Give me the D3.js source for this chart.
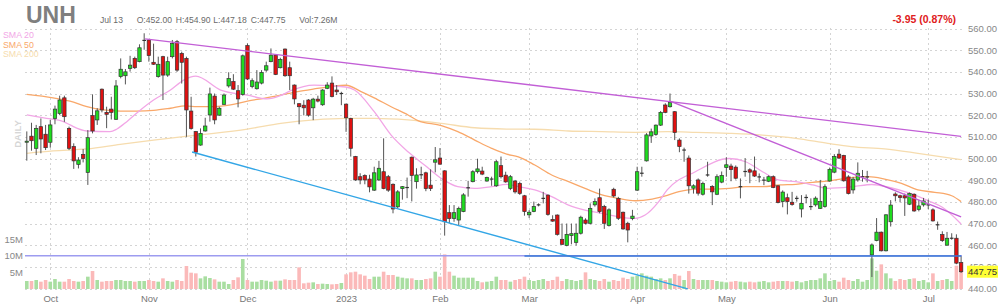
<!DOCTYPE html>
<html><head><meta charset="utf-8">
<script src="https://cdn.jsdelivr.net/npm/d3@7"></script>
<style>body{margin:0;background:#fff;} svg{display:block;font-family:"Liberation Sans",Arial,sans-serif;}</style>
</head><body><svg id="c" width="1000" height="308"></svg>
<script>
// ---- DATA ----
const opens=[507.5,510.3,504.7,514.7,511.2,507.5,518.5,520.8,528,513.9,505.5,497.3,501.9,493.6,519.8,517.8,532,521.3,522.8,518.1,537.8,538.2,541.6,546.2,544.7,554.5,554.7,544.4,537.8,547,538.5,547,553.9,548.5,546.2,521.9,512.4,506.2,512.7,520.1,528.8,520,525,533.5,535.5,531.3,529.6,552.1,533.3,532.2,534.8,540.8,544.7,547.7,541.9,550.5,541.9,533.9,525.3,524.6,527,523.4,527.4,524.8,532.4,534.8,531.6,530,525.1,518.5,500.9,491.6,492.1,490.5,485.4,490.1,493.9,491.6,488.1,477.7,486.1,486.6,500.6,489.3,492.5,493.4,487.7,498.3,500.2,494.3,475,472.3,471.6,475.5,486.5,489.3,493.9,494.2,489.6,490.5,487.4,496.7,492.3,486.2,489.6,488.5,482.8,474,475.5,478.6,481.6,483.1,471.9,473.9,462.7,459.9,464.4,461.3,465.5,471.6,470.1,478.6,481.9,477.8,469.1,485.8,481.6,475.2,470.1,472.3,485.4,493.2,498.9,510.4,511.1,515.4,524.7,523.9,521.6,508.5,503.9,500.2,486.3,490.1,483.5,492.4,487.1,483.5,489.1,495.8,496.5,496,487,494,494.8,494.3,491.5,490,489.5,491.6,487.4,480.1,481.9,479.8,481.6,476.7,482,477.8,478.6,477,477.8,489.6,493.7,502,501.4,491.5,485.5,490.1,491.6,491.5,455.5,462.1,466,457.4,470.8,483.6,482.8,482.8,478.9,483.5,476.5,478.6,478.6,476.3,469.4,464.9,460,463.2,463.2,452];
const highs=[512.5,516.5,515.5,518.5,515.5,517.8,524.4,529,529,514.7,507,500.6,504.4,513.1,529.6,523.2,532.3,523.9,528.5,536.2,546.2,541.3,547.4,547,552.7,557.8,555,553,547,547.4,547,554.7,554.7,549.3,547,528.5,512.7,513.9,518.8,532.7,530,523.9,530,539.8,538.9,533.9,548,553.1,537,540.8,540.8,544.7,550.8,548,546.5,550.8,544.7,534.2,525.5,526.9,527.4,528,529,532,535.2,537.9,533.9,530.8,525.3,518.8,501.2,493.2,492.7,492.5,496.2,498.9,509.3,492.4,488.5,485.4,487.3,491.2,500.9,495.5,496.2,493.9,495,505.3,504.8,494.6,478.5,478.5,477.8,484,489.7,494.6,499.9,496.2,491.6,491.6,499.3,500.9,493.9,492.4,490.1,489.3,483.2,476.2,480.1,479.3,484.6,483.4,473.8,474.2,470,470,470,470,473.6,472.4,479.3,481.6,486.1,478.6,477,486.5,482.3,475.5,470.8,476.3,496.2,496.2,511.7,513.8,515.7,521.9,525.5,530,521.9,509.3,505,501.4,488.1,490.8,489.3,498.5,487.7,492.7,494,500.6,497.6,496.8,490.8,500.2,495.5,500.9,493.1,491.5,492.2,492.2,487.7,485.3,483.8,484.6,482.8,483.1,483.4,481.6,482.5,490.1,488.1,495.8,502,504.3,501.7,492.3,491.5,498.2,494.7,494.3,460.8,472.5,466.3,474.3,480.8,484.4,483.3,483.8,484.3,483.9,480.9,481.8,481,477,470.9,466.4,466.1,465.5,465,454.9];
const lows=[499,503.6,501.6,502.4,503.9,505,515.8,520,516.9,503.9,495.2,495.4,498.2,487.8,511.6,515.5,521.3,514,518,517.8,537,534.2,540.1,541.3,544.4,550.2,544.7,543.2,537.3,527,537.7,546.2,540,534.6,510,513.3,500.9,505.9,512.4,517,515.8,519.7,524.8,532.7,531.6,523.6,529,536.2,532.4,531.8,534.2,540,544.4,538.5,541.6,537.7,531.6,525,515.8,519.9,519.3,517.7,525.9,524.3,532,528.2,529.3,524.6,512.3,500.9,489.7,488.1,488.1,484.4,485,489.6,485.8,484.6,474.7,476.9,481,481.7,480.2,486.1,490.5,484.9,485,493.6,497.1,464.4,470,470.8,469.2,475.2,482.4,489,493.1,492.3,489.3,487.4,486.9,490.8,488.8,485.4,483.8,483.2,473.6,472.5,475.2,477.9,479.3,473.6,470.8,464.4,460.1,459.5,460.4,459.8,464.9,469.6,469.6,477.8,474.7,467.5,468.6,482,471.6,467.1,461.3,471.5,485,491.6,498.6,507.2,510.5,515,520.9,523.5,508.5,502.9,498.5,483.8,483.8,482.9,482.9,491.6,478.5,483.1,488.6,491.6,489.5,490.3,481.6,491.6,488.6,491.5,489,487.7,489.1,486.3,479.3,477.5,474.2,478.2,480.1,472.8,479.3,476.2,477.8,476.7,477.3,489.3,493.2,499.8,489.3,483.4,483.8,489.3,489.3,489,445.3,461.8,457.1,457.1,468.6,480.2,479.8,473.5,478.5,475.4,475.6,477.8,476.6,470.9,467.1,461.5,459.8,462.5,451.2,447.18];
const closes=[508,508.2,513.9,509,505,515.5,522.8,527,519.3,504.7,498.9,499.3,500,509.6,512.7,522,522.4,520.4,521.3,533.5,541.2,540,543.1,541.9,551.1,554.5,547.5,543.5,543.5,538.5,544.7,553.1,540.8,544.4,522.4,513.9,502.9,511.6,515,529.8,517.8,523.2,529.3,536.9,532,527.5,547.4,536.7,535.9,535.3,539.7,542.8,547.7,538.8,545.7,538.2,538.2,527.5,523.9,523.4,520,527.4,526.5,531.6,533.9,528.6,530.8,530,518.8,504.7,490.1,490.1,490.1,486.9,493.4,495.5,486.1,485.4,476.7,484.6,487,486.6,492.2,492.4,492.5,486.1,486.1,499.4,497.4,470.8,472.3,475,477,483.2,486.5,493.9,495.2,492.8,491.2,490.5,498.5,491.6,489.2,491.6,484.6,483.9,475.5,475.2,477.8,478.6,481.6,474.2,471.1,465,460.4,465,465.3,465.5,472.9,470.1,477,480.1,475.5,470.1,476.3,482.7,472.4,467.5,467,473.4,493.9,493.2,510.9,512.3,515.4,521.3,521.3,525.9,512,505.5,503.9,487.4,487.4,484,488.5,492.4,484.6,491.6,492.2,497.1,494.9,490.9,487,494,493.7,491.9,491.5,490,491.6,486.6,479.7,484.5,480.1,478.8,481.6,479.3,482,477.8,481.7,480.1,487,495,500.9,500.2,489.7,483.8,490.5,493.2,491.6,491.5,460.1,466,457.4,474,478.5,482.8,482,481.8,483.8,475.8,478.1,480.4,478.6,471.2,469.4,462.1,463.2,463.2,451.7,447.75];
const volumes=[2.4,2.4,2.7,2.2,2.7,2.2,3.0,2.2,2.2,3.0,2.4,2.2,2.4,3.7,5.4,2.7,2.2,2.4,2.4,2.7,2.7,2.4,2.4,2.2,2.4,2.4,2.7,2.4,2.2,3.2,2.4,2.2,2.7,2.4,
6.9,4.9,4.7,3.2,3.8,3.3,2.9,2.2,2.2,1.5,2.7,3.5,9.0,2.7,2.2,2.2,2.7,2.5,2.2,2.5,2.5,2.9,2.7,2.7,6.5,1.7,1.9,2.0,1.5,1.6,1.5,1.4,1.5,1.8,
4.4,5.0,5.2,4.4,4.0,3.0,3.7,3.7,5.2,4.2,4.2,3.7,3.4,3.2,3.2,2.7,2.7,3.0,3.2,5.2,3.7,10.4,5.2,4.0,3.4,3.4,3.4,3.4,2.4,2.0,2.2,2.4,3.7,2.7,
2.7,2.2,2.7,3.0,3.7,2.7,2.4,2.7,3.0,2.4,2.7,3.7,2.4,3.0,2.7,2.4,2.7,5.0,3.0,2.7,2.4,3.0,2.2,2.7,2.4,3.4,3.0,3.7,4.0,4.7,4.0,3.7,3.0,3.2,
2.7,3.2,4.5,4.0,2.7,5.4,3.0,2.7,2.7,2.7,2.7,2.4,2.2,2.0,2.2,2.4,2.2,2.0,2.2,2.0,2.2,2.4,2.0,2.2,2.4,2.4,2.4,2.2,2.4,2.0,2.4,2.7,2.7,3.2,
4.7,2.4,2.7,2.2,3.4,2.7,2.4,3.0,2.2,2.7,9.2,5.5,7.4,4.7,3.2,2.4,3.0,2.7,3.0,3.2,2.4,2.7,2.0,4.7,2.4,2.7,3.0,2.4,7.0,7.26];
const monthIdx=[5,26,47,68,88,107,130,149,171,192];
const monthLabels=["Oct","Nov","Dec","2023","Feb","Mar","Apr","May","Jun","Jul"];
const priceTicks=[440,450,460,470,480,490,500,510,520,530,540,550,560];
const volTicks=[5,10,15];
const sma20Idx=[0,4.2,7.8,9.2,12.8,17.7,19.2,21.3,24.2,27,30.6,33.4,36,41.3,47,51.2,54,56.2,61.2,67.9,69.8,74,77.6,81.2,84.7,88.3,91.8,95.4,99,102.2,104.7,108.2,111.8,115.4,118.9,122.5,126,129.6,131.7,134.6,136.4,142.4,149.6,153.1,156.7,160.3,163.8,167.4,170.6,176,180,184,188,192,195,199];
const sma20Val=[520.1,518.5,517,515.5,512.7,512.4,513.6,517,522.4,527,531.6,536.2,538,531.6,529.2,527.5,529,531.3,533.9,533,531.6,521.6,510.8,503.1,497,490.8,487,486.2,487,488.1,487,485.5,482.4,478.5,476.2,474.7,473.1,472.4,473.9,480.1,485.5,493.9,500,498.5,493.9,490,489.3,487.8,486.2,487,488,486.5,484,480.5,477.5,469.8];
const sma50Idx=[0,5.6,9.2,12.8,16.3,19.9,23.4,27,30.6,33.8,36.3,39.8,43.4,47,50.5,54.1,57.7,61.2,64.8,68,71.2,74,77.6,81.2,83.3,88.3,91.8,95.4,99,102.2,104.7,108.2,111.8,115.4,118.9,122.5,126,129.6,133.2,136.4,138.9,142.4,146,149.6,153.1,156.7,160.3,163.8,167.4,170.6,175.6,179.2,182.7,186.3,189.8,193.4,197,199];
const sma50Val=[529.6,528,526.5,523.9,522.4,521.9,521.9,522.2,523.2,524.3,523.9,523.9,524.7,526.5,527.8,529.3,530.9,532.1,533.2,533.8,530.9,528,523.9,520.1,517.5,515.2,512.4,508.5,504.7,502,500.8,497,492.4,489.3,486.2,483.2,481.6,480.5,481.3,483,484.7,485.9,485.9,486.2,487,487,487.8,488.1,489,489.6,491.2,491.6,490.5,488.5,485.5,484.4,482.8,480.1];
const sma200Idx=[0,5.6,12.8,19.9,27,33.8,39.8,47,54.1,61.2,68,74,81.2,88.3,95.4,102.2,108.2,115.4,122.5,129.6,136.4,142.4,149.6,156.7,163.8,170.6,175.6,182.7,189.8,199];
const sma200Val=[502.4,503.5,504.4,506.5,508.5,510.2,511.6,513.6,516.2,517.8,518.5,518.5,517.8,516.2,514.2,513.6,513.5,512.7,512.4,512.1,512.4,512.1,511.6,510.8,509.3,507,505.5,504.4,502.4,499.5];
// trendlines: [startIndex, startPrice, endIndex, endPrice]
const purpleLine1=[25.2,555.2,199,510.2];
const purpleLine2=[137,526.5,199,473.1];
const blueLine=[35.2,503,140.8,439.8];
const hLine=[106,455,199,455];
const lastClose=447.75;

// ---- CHART ----
const svg=d3.select("#c");
const x=d3.scaleLinear().domain([0,199]).range([26.8,961.1]);
const y=d3.scaleLinear().domain([440,560]).range([288.5,28.5]);
const yv=d3.scaleLinear().domain([0,10]).range([289,255.7]);
const left=25,right=962;
const FONT="Liberation Sans, Arial, sans-serif";

// grid
const grid=svg.append("g").attr("stroke","#d4d4d4").attr("stroke-dasharray","2,3").attr("stroke-width",1);
priceTicks.forEach(p=>grid.append("line").attr("x1",left).attr("x2",right).attr("y1",Math.round(y(p))+0.5).attr("y2",Math.round(y(p))+0.5));
monthIdx.forEach(i=>grid.append("line").attr("x1",Math.round(x(i))+0.5).attr("x2",Math.round(x(i))+0.5).attr("y1",28).attr("y2",290));

// volume bars
const up=d3.range(200).map(i=>closes[i]>=opens[i]);
svg.append("g").selectAll("rect").data(volumes).join("rect")
  .attr("x",(d,i)=>x(i)-1.8).attr("width",3.6)
  .attr("y",d=>yv(d)).attr("height",d=>yv(0)-yv(d))
  .attr("fill",(d,i)=>up[i]?"#a9dea1":"#fbb9b9");

// 10M volume line
svg.append("line").attr("x1",left).attr("x2",right).attr("y1",yv(10)).attr("y2",yv(10)).attr("stroke","#9d9cf0").attr("stroke-width",1.5);

// SMAs
const mk=(idx,val)=>idx.map((d,k)=>[d,val[k]]);
const line=d3.line().x(d=>x(d[0])).y(d=>y(d[1])).curve(d3.curveMonotoneX);
svg.append("path").attr("d",line(mk(sma200Idx,sma200Val))).attr("fill","none").attr("stroke","#f6dcae").attr("stroke-width",1.3);
svg.append("path").attr("d",line(mk(sma50Idx,sma50Val))).attr("fill","none").attr("stroke","#f9a86a").attr("stroke-width",1.3);
svg.append("path").attr("d",line(mk(sma20Idx,sma20Val))).attr("fill","none").attr("stroke","#f2a6e6").attr("stroke-width",1.3);

// candles
const cg=svg.append("g");
d3.range(200).forEach(i=>{
  const cx=x(i);
  cg.append("line").attr("x1",cx).attr("x2",cx).attr("y1",y(highs[i])).attr("y2",y(lows[i])).attr("stroke","#555").attr("stroke-width",1);
  const o=opens[i],c=closes[i];
  if(Math.abs(o-c)<0.05){
    cg.append("line").attr("x1",cx-1.8).attr("x2",cx+1.8).attr("y1",y(o)).attr("y2",y(o)).attr("stroke","#333").attr("stroke-width",1.2);
  } else {
    const top=y(Math.max(o,c)),bot=y(Math.min(o,c));
    cg.append("rect").attr("x",cx-1.7).attr("width",3.4).attr("y",top).attr("height",Math.max(1,bot-top))
      .attr("fill",c>o?"#1fdc1f":"#e01010").attr("stroke","#333").attr("stroke-width",0.7);
  }
});

// trend lines
const tl=(a,col)=>svg.append("line").attr("x1",x(a[0])).attr("y1",y(a[1])).attr("x2",x(a[2])).attr("y2",y(a[3])).attr("stroke",col).attr("stroke-width",1.4);
tl(purpleLine1,"#c25fd6");
tl(purpleLine2,"#c25fd6");
tl(blueLine,"#33a6e6");
tl(hLine,"#3b78d6");

// axes
const ya=svg.append("g").attr("transform","translate(964,0)")
  .call(d3.axisRight(y).tickValues(priceTicks.filter(p=>p!==450)).tickSize(0).tickPadding(4).tickFormat(d3.format(".2f")));
ya.select(".domain").remove();
ya.selectAll("text").attr("fill","#888").attr("font-size","9.5px").attr("font-family",FONT);
// 450 label sits partly behind the last-price tag in the reference: show only its upper part
svg.append("clipPath").attr("id","clip450").append("rect").attr("x",960).attr("y",255).attr("width",40).attr("height",y(lastClose)-6-255);
svg.append("text").attr("x",968).attr("y",y(450)+3.3).attr("clip-path","url(#clip450)").attr("fill","#888").attr("font-size","9.5px").attr("font-family",FONT).text("450.00");

const xa=svg.append("g").attr("transform","translate(0,289)")
  .call(d3.axisBottom(x).tickValues(monthIdx).tickSize(0).tickPadding(6).tickFormat((d,k)=>monthLabels[k]));
xa.select(".domain").remove();
xa.selectAll("text").attr("fill","#777").attr("font-size","9.5px").attr("font-family",FONT);

const va=svg.append("g").attr("transform","translate(24,0)")
  .call(d3.axisLeft(yv).tickValues(volTicks).tickSize(0).tickPadding(1).tickFormat(d=>d+"M"));
va.select(".domain").remove();
va.selectAll("text").attr("fill","#888").attr("font-size","9.5px").attr("font-family",FONT);

// last price tag
svg.append("rect").attr("x",967).attr("y",y(lastClose)-6).attr("width",31).attr("height",12).attr("fill","#ffff33");
svg.append("text").attr("x",982.5).attr("y",y(lastClose)+3.5).attr("text-anchor","middle").attr("font-size","9.5px").attr("fill","#333").text(lastClose.toFixed(2));

// header
svg.append("text").attr("x",26).attr("y",23).attr("font-size","23px").attr("font-weight","bold").attr("fill","#7f7f7f").text("UNH");
const hdr=[[100,"Jul 13"],[136.7,"O:452.00"],[175.7,"H:454.90"],[213.3,"L:447.18"],[250.7,"C:447.75"],[299.3,"Vol:7.26M"]];
hdr.forEach(h=>svg.append("text").attr("x",h[0]).attr("y",23).attr("font-size","8.6px").attr("fill","#6a6a6a").text(h[1]));
svg.append("text").attr("x",956).attr("y",23).attr("text-anchor","end").attr("font-size","10.5px").attr("font-weight","bold").attr("fill","#e02020").text("-3.95 (0.87%)");

// legend
[["SMA 20","#f2a6e6",38],["SMA 50","#f9a86a",47.5],["SMA 200","#f6dcae",57]].forEach(l=>
  svg.append("text").attr("x",3).attr("y",l[2]).attr("font-size","8.8px").attr("fill",l[1]).text(l[0]));

// DAILY
svg.append("text").attr("transform","translate(20.5,134) rotate(-90)").attr("text-anchor","middle")
  .attr("font-size","9.5px").attr("font-weight","bold").attr("fill","#d6d6d6").text("DAILY");
</script></body></html>
